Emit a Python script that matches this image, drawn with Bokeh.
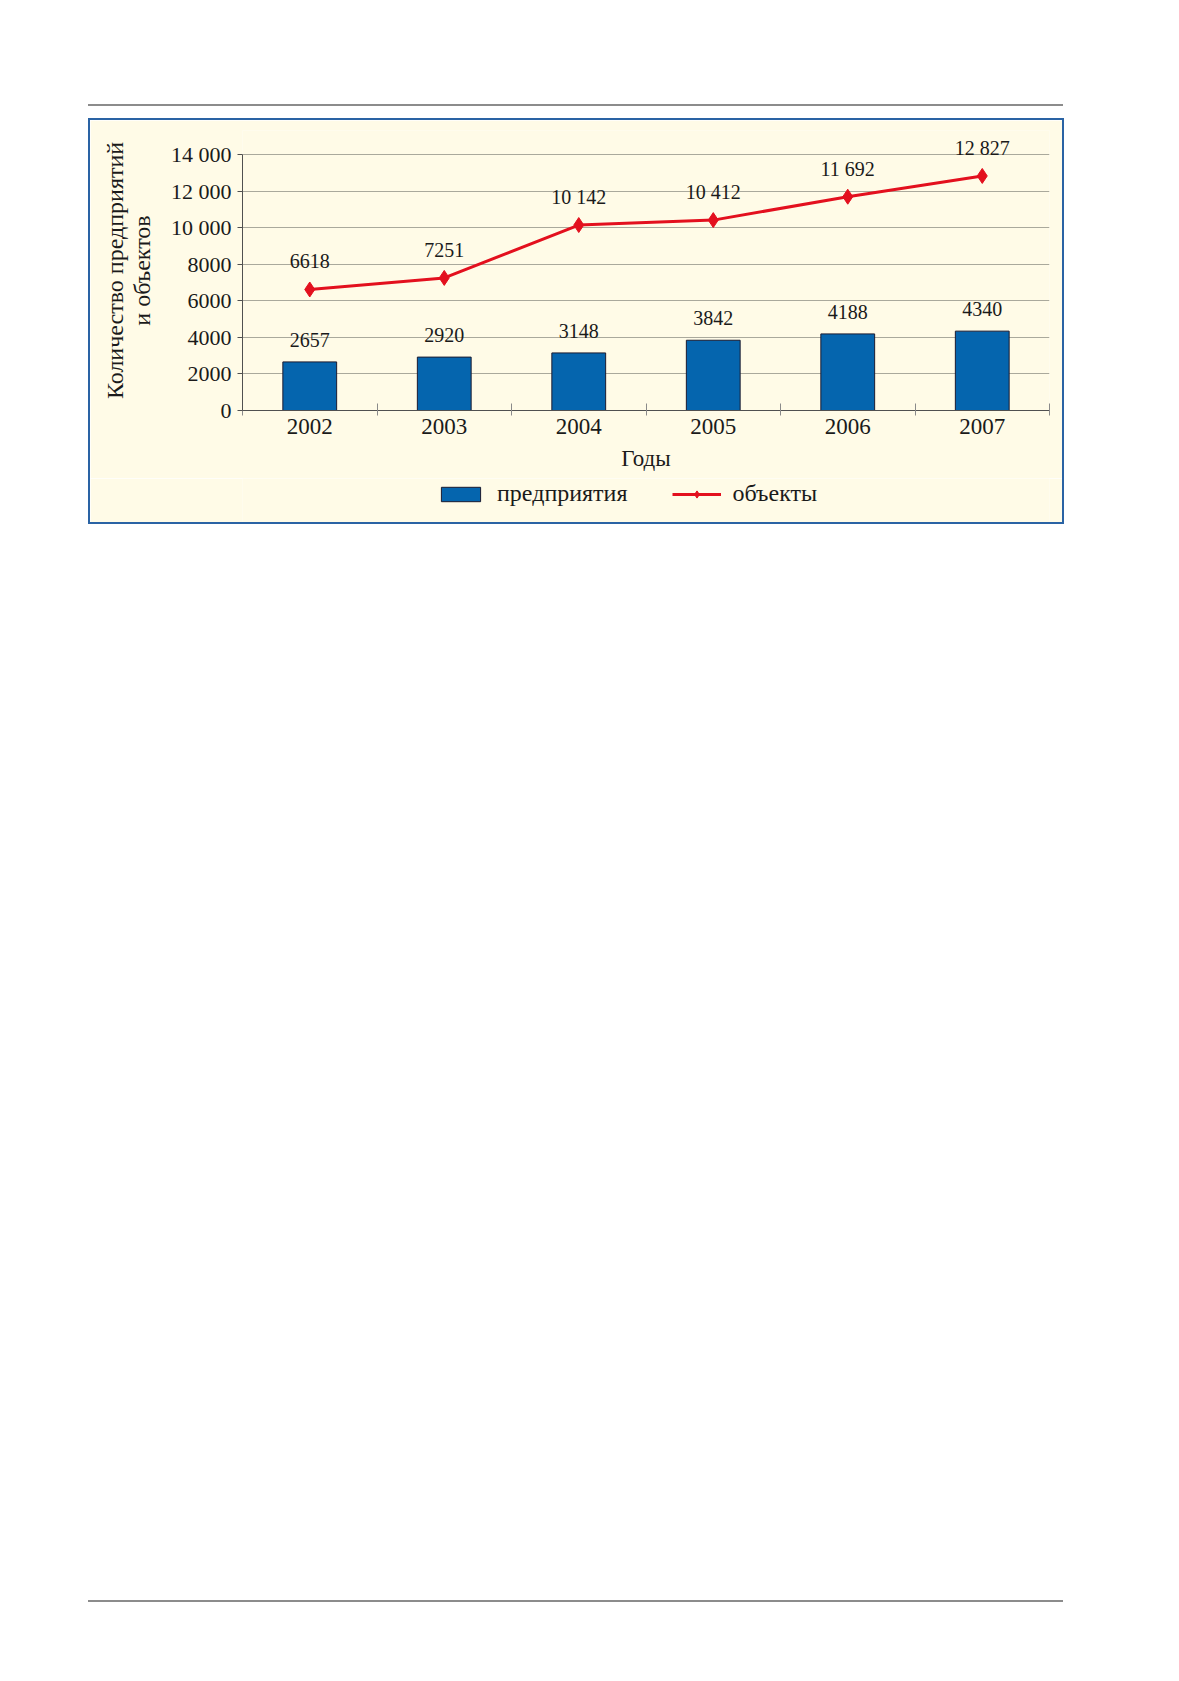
from bokeh.plotting import figure
from bokeh.models import (Range1d, FixedTicker, LabelSet,
                          ColumnDataSource, Legend, LegendItem, Div)
from bokeh.layouts import column
from bokeh.embed import file_html
from bokeh.resources import INLINE

# ---- data ----
years = ["2002", "2003", "2004", "2005", "2006", "2007"]
enterprises = [2657, 2920, 3148, 3842, 4188, 4340]
objects_ = [6618, 7251, 10142, 10412, 11692, 12827]
ent_labels = ["2657", "2920", "3148", "3842", "4188", "4340"]
obj_labels = ["6618", "7251", "10 142", "10 412", "11 692", "12 827"]
y_ticks = [0, 2000, 4000, 6000, 8000, 10000, 12000, 14000]
y_tick_labels = ["0", "2000", "4000", "6000", "8000", "10 000", "12 000", "14 000"]
series_names = ["предприятия", "объекты"]
x_title = "Годы"
y_title = "Количество предприятий\nи объектов"

FONT = "Liberation Serif"
CREAM = "#fffbe7"
BLUE = "#0565ae"
RED = "#e3101e"
TXT = "#1a1a1a"
FRAME = "2px solid #2a63a4"

n = len(years)
centers = [i + 0.5 for i in range(n)]      # category slot centres
bounds = list(range(n + 1))               # category slot boundaries

# plot area: 256 px for the 0..14000 axis, plus 24 px of head-room for the top label
AXIS_PX, HEAD_PX = 256, 24
y_top = y_ticks[-1] * (AXIS_PX + HEAD_PX) / AXIS_PX

src = ColumnDataSource(dict(x=centers, ent=enterprises, obj=objects_,
                            ent_label=ent_labels, obj_label=obj_labels))

# ---------------- main chart ----------------
p = figure(x_range=Range1d(0, n), y_range=Range1d(0, y_top),
           width=976, height=360, output_backend="svg", toolbar_location=None,
           background_fill_color=CREAM, border_fill_color=CREAM,
           min_border_left=152, min_border_right=17, min_border_top=34 - HEAD_PX,
           min_border_bottom=70)
p.outline_line_color = None
p.xgrid.visible = False

xa = p.xaxis[0]
xa.ticker = FixedTicker(ticks=centers, minor_ticks=bounds)
xa.major_label_overrides = {c: y for c, y in zip(centers, years)}
xa.axis_line_color = "#505050"
xa.major_tick_line_color = None
xa.major_tick_in = 0
xa.major_tick_out = 5
xa.minor_tick_line_color = "#8a8a8a"
xa.minor_tick_in = 7
xa.minor_tick_out = 5
xa.major_label_text_font = FONT
xa.major_label_text_font_size = "23px"
xa.major_label_text_color = TXT
xa.major_label_standoff = 3
xa.axis_label = x_title
xa.axis_label_text_font = FONT
xa.axis_label_text_font_size = "23px"
xa.axis_label_text_font_style = "normal"
xa.axis_label_text_color = TXT
xa.axis_label_standoff = 9

yt = FixedTicker(ticks=y_ticks)
ya = p.yaxis[0]
ya.ticker = yt
ya.bounds = (y_ticks[0], y_ticks[-1])
ya.major_label_overrides = {t: l for t, l in zip(y_ticks, y_tick_labels)}
ya.major_label_text_font = FONT
ya.major_label_text_font_size = "22px"
ya.major_label_text_color = TXT
ya.major_tick_in = 0
ya.major_tick_out = 5
ya.minor_tick_line_color = None
ya.major_tick_line_color = "#505050"
ya.axis_line_color = "#505050"
ya.major_label_standoff = 6
ya.axis_label = y_title
ya.axis_label_text_font = FONT
ya.axis_label_text_font_size = "24px"
ya.axis_label_text_font_style = "normal"
ya.axis_label_text_color = TXT
ya.axis_label_text_line_height = 1.05
ya.axis_label_standoff = 13

p.ygrid.ticker = yt
p.ygrid.grid_line_color = "#aaa99c"
p.ygrid.grid_line_width = 1

bar_style = dict(fill_color=BLUE, line_color="#1b1b30", line_width=1)
line_style = dict(line_color=RED, line_width=3)
mark_style = dict(marker="diamond", size=15, fill_color=RED, line_color=RED)

p.vbar(x="x", top="ent", width=0.4, source=src, **bar_style)
p.line(x="x", y="obj", source=src, **line_style)
p.scatter(x="x", y="obj", source=src, **mark_style)

p.add_layout(LabelSet(x="x", y="ent", text="ent_label", source=src, text_align="center",
                      text_baseline="middle", y_offset=22, text_font=FONT,
                      text_font_size="20px", text_color=TXT))
p.add_layout(LabelSet(x="x", y="obj", text="obj_label", source=src, text_align="center",
                      text_baseline="middle", y_offset=28, text_font=FONT,
                      text_font_size="20px", text_color=TXT))

p.margin = (12, 0, 0, 88)
p.styles = {"border": FRAME, "border-bottom": "none", "box-sizing": "border-box"}

# ---------------- legend strip (same box, below the chart) ----------------
# The strip repeats the two series as hidden renderers, so only their legend
# entries are shown.
leg = figure(x_range=Range1d(0, n), y_range=Range1d(-2, -1), width=976, height=46,
             output_backend="svg", toolbar_location=None,
             x_axis_location=None, y_axis_location=None,
             background_fill_color=CREAM, border_fill_color=CREAM,
             min_border_left=0, min_border_right=0, min_border_top=0, min_border_bottom=0)
leg.outline_line_color = None
leg.grid.visible = False
lb = leg.vbar(x="x", top="ent", width=0.4, source=src, **bar_style)
ll = leg.line(x="x", y="obj", source=src, **line_style)
lm = leg.scatter(x="x", y="obj", source=src, **mark_style)
for r in (lb, ll, lm):
    r.visible = False
legend = Legend(items=[LegendItem(label=series_names[0], renderers=[lb]),
                       LegendItem(label=series_names[1], renderers=[ll, lm])],
                orientation="horizontal", location=(194, 17), padding=0, margin=0,
                border_line_color=None, background_fill_alpha=0,
                inactive_fill_alpha=0,
                label_text_font=FONT, label_text_font_size="24px", label_text_color=TXT,
                glyph_width=49, glyph_height=18, label_standoff=12, spacing=44)
leg.add_layout(legend)
leg.margin = (0, 0, 0, 88)
leg.styles = {"border": FRAME, "border-top": "none", "box-sizing": "border-box"}

top_line = Div(text="", width=975, height=2, margin=(104, 0, 0, 88),
               styles={"background-color": "#8c8c8c", "overflow": "hidden"})
bottom_line = Div(text="", width=975, height=2, margin=(1076, 0, 0, 88),
                  styles={"background-color": "#8c8c8c", "overflow": "hidden"})

layout = column(top_line, p, leg, bottom_line)

open("out.html", "w").write(file_html(layout, INLINE))
